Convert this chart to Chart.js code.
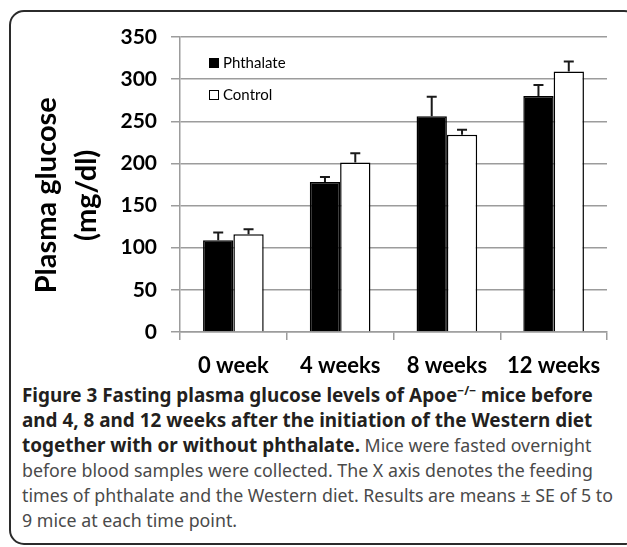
<!DOCTYPE html>
<html>
<head>
<meta charset="utf-8">
<script src="https://cdn.jsdelivr.net/npm/chart.js@4.4.1/dist/chart.umd.min.js"></script>
<style>
  html, body { margin: 0; padding: 0; background: #fff; }
  body { width: 627px; height: 547px; position: relative; overflow: hidden; }
  #frame {
    position: absolute; left: 9px; top: 10px; width: 630px; height: 535px;
    border: 2px solid #2b2b2b; border-radius: 15px; box-sizing: border-box;
  }
  #chart { position: absolute; left: 0; top: 0; }
  #caption {
    position: absolute; left: 22px; top: 383px;
    font-family: "Noto Sans", "Open Sans", sans-serif; font-size: 17.8px; line-height: 25px;
    color: #4a4a4a; white-space: nowrap;
  }
  #caption b { color: #231f20; font-weight: 700; font-size: 18.9px; }
  #caption sup { font-size: 12px; line-height: 0; vertical-align: 7px; }
</style>
</head>
<body>
<div id="frame"></div>
<canvas id="chart" width="627" height="380"></canvas>
<div id="caption">
  <b>Figure 3 Fasting plasma glucose levels of Apoe<sup>−/−</sup> mice before</b><br>
  <b>and 4, 8 and 12 weeks after the initiation of the Western diet</b><br>
  <b>together with or without phthalate.</b> Mice were fasted overnight<br>
  before blood samples were collected. The X axis denotes the feeding<br>
  times of phthalate and the Western diet. Results are means ± SE of 5 to<br>
  9 mice at each time point.
</div>
<script>
// Fasting plasma glucose (mg/dl), mean and SE per time point
const categories = ['0 week', '4 weeks', '8 weeks', '12 weeks'];
const phthalate = [109, 178, 256, 280];
const phthalateSE = [9, 6, 23, 13];
const control = [116, 201, 234, 309];
const controlSE = [6, 11, 6, 12];
const yTicks = [0, 50, 100, 150, 200, 250, 300, 350];

const seBySeries = [phthalateSE, controlSE];

// upward error bars with a cap, drawn through the chart's own scales
const errorBars = {
  id: 'errorBars',
  afterDatasetsDraw(chart) {
    const ctx = chart.ctx;
    const y = chart.scales.y;
    ctx.save();
    ctx.strokeStyle = '#1a1a1a';
    ctx.lineWidth = 2;
    chart.data.datasets.forEach((ds, di) => {
      const meta = chart.getDatasetMeta(di);
      meta.data.forEach((bar, i) => {
        const top = y.getPixelForValue(ds.data[i] + seBySeries[di][i]);
        const base = y.getPixelForValue(ds.data[i]);
        ctx.beginPath();
        ctx.moveTo(bar.x, base);
        ctx.lineTo(bar.x, top);
        ctx.moveTo(bar.x - 5, top);
        ctx.lineTo(bar.x + 5, top);
        ctx.stroke();
      });
    });
    ctx.restore();
  }
};

// stacked legend inside the upper-left of the plot
const insideLegend = {
  id: 'insideLegend',
  afterDraw(chart) {
    const ctx = chart.ctx;
    const a = chart.chartArea;
    ctx.save();
    ctx.font = '15px Lato';
    ctx.textBaseline = 'middle';
    ctx.fillStyle = '#000';
    chart.data.datasets.forEach((ds, i) => {
      const cy = a.top + 26 + i * 32;
      const bx = a.left + 29;
      ctx.fillStyle = ds.backgroundColor;
      ctx.fillRect(bx, cy - 5, 10, 10);
      ctx.strokeStyle = '#000';
      ctx.lineWidth = 1;
      ctx.strokeRect(bx + 0.5, cy - 4.5, 9, 9);
      ctx.fillStyle = '#000';
      ctx.fillText(ds.label, bx + 14, cy);
    });
    ctx.restore();
  }
};

const gridColor = '#9c9c9c';

new Chart(document.getElementById('chart'), {
  type: 'bar',
  data: {
    labels: categories,
    datasets: [
      { label: 'Phthalate', data: phthalate, backgroundColor: '#000', borderColor: '#000', borderWidth: 1.5 },
      { label: 'Control', data: control, backgroundColor: '#fff', borderColor: '#000', borderWidth: 1.5 }
    ]
  },
  options: {
    responsive: false,
    animation: false,
    devicePixelRatio: 1,
    layout: { padding: { top: 37, right: 20, bottom: 0, left: 0 } },
    datasets: { bar: { barPercentage: 1, categoryPercentage: 0.568 } },
    plugins: { legend: { display: false }, tooltip: { enabled: false } },
    scales: {
      x: {
        grid: { display: true, offset: true, drawOnChartArea: false, drawTicks: true, tickLength: 8, color: gridColor, lineWidth: 1.5 },
        border: { display: true, color: gridColor, width: 1.5 },
        ticks: { color: '#000', font: { family: 'Lato', size: 22, weight: 'bold' }, padding: 13 },
        afterFit(scale) { scale.height = 48; }
      },
      y: {
        min: 0, max: 350,
        afterBuildTicks(scale) { scale.ticks = yTicks.map(v => ({ value: v })); },
        grid: { color: gridColor, lineWidth: 1.5, tickLength: 9, drawTicks: true },
        border: { display: true, color: gridColor, width: 1.5 },
        ticks: { color: '#000', font: { family: 'Lato', size: 21, weight: 'bold' }, padding: 14 },
        title: {
          display: true,
          text: ['Plasma glucose\u2002 ', '(mg/dl)\u2002 '],
          color: '#000',
          font: { family: 'Lato', size: 29, weight: 'bold', lineHeight: 1.38 },
          padding: { top: 27, bottom: 0 }
        },
        afterFit(scale) { scale.width = 180; }
      }
    }
  },
  plugins: [errorBars, insideLegend]
});
</script>
</body>
</html>
